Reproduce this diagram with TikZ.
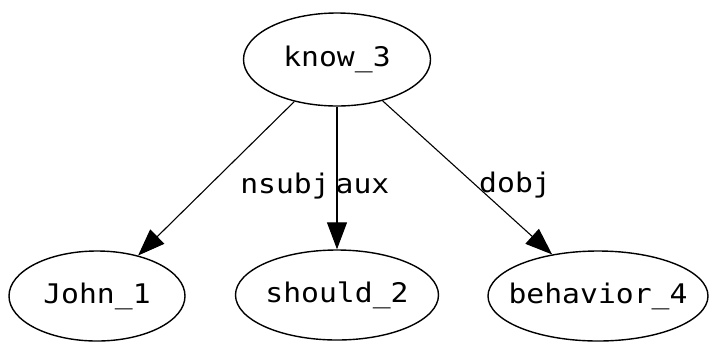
\documentclass[tikz,border=0pt]{standalone}
\usepackage{fontspec}
\usetikzlibrary{shapes.geometric,arrows.meta}
\newfontfamily\graphfont[FakeStretch=1.1]{DejaVu Sans Mono}
\begin{document}
\begin{tikzpicture}[x=1pt,y=-1pt,
  font=\graphfont\fontsize{27}{30}\selectfont,
  word/.style={ellipse,draw,line width=1.4pt,inner sep=0pt},
  dep/.style={-{Triangle[length=27pt,width=20pt]},line width=1.1pt},
  rel/.style={anchor=base,inner sep=0pt}]
  \useasboundingbox (0,0) rectangle (709,341);
  % dependency nodes
  \node[word,minimum width=187pt,minimum height=93pt,label={center:know\_3}] (know) at (337,59.5) {};
  \node[word,minimum width=176pt,minimum height=90pt,label={center:John\_1}] (john) at (97,296) {};
  \node[word,minimum width=203pt,minimum height=90pt,label={center:should\_2}] (should) at (337,295) {};
  \node[word,minimum width=220pt,minimum height=90pt,label={center:behavior\_4}] (behav) at (598,296) {};
  % relations
  \draw[dep] (know) -- (john);
  \draw[dep] (know) -- (should);
  \draw[dep] (know) -- (behav);
  \node[rel] (lnsubj) at (285,193) {nsubj};
  \node[rel] (laux) at (362.5,193) {aux};
  \node[rel] (ldobj) at (515,192) {dobj};
\end{tikzpicture}
\end{document}
